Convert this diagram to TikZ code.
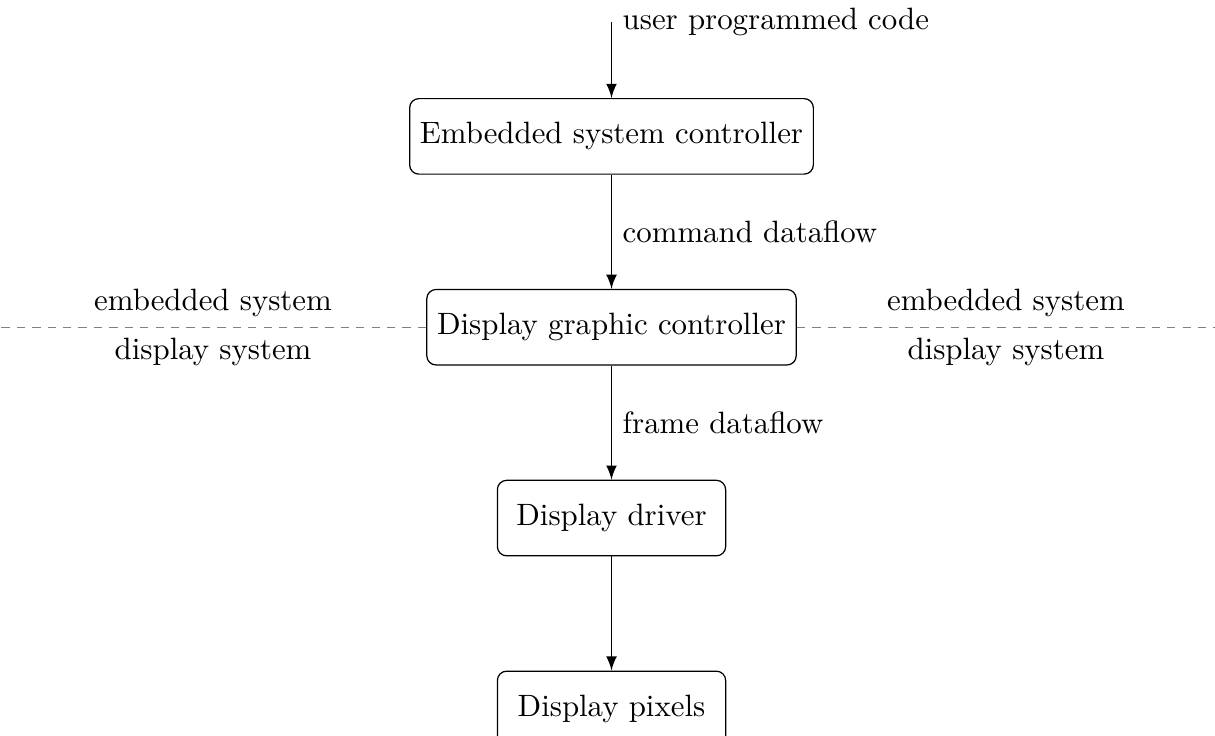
\documentclass[tikz,border=0pt]{standalone}
\usepackage{tikz}
\usetikzlibrary{positioning}

\begin{document}
\begin{tikzpicture}
	\useasboundingbox (-198.2pt,-194.3pt) rectangle (195.6pt,44.2pt);
	\tikzstyle{block}=[rectangle, rounded corners=3pt, draw=black, minimum height=8.6mm, node distance=1.3cm]
	\tikzstyle{connect}=[-latex, semithick]
	\tikzstyle{divider}=[draw=gray, dash pattern=on 2.7pt off 2.3pt]
	\node[block] (esc) {Embedded system controller};
	\node[block] (dgc) [below=of esc] {Display graphic controller};
	\node[block, minimum width=2.6cm] (drv) [below=of dgc] {Display driver};
	\node[block, minimum width=2.6cm] (pix) [below=of drv] {Display pixels};
	\node[coordinate] (code) [above=8.7mm of esc] {};
	\coordinate (lend) at (-198.2pt,0 |- dgc);
	\coordinate (rend) at (195.6pt,0 |- dgc);
	\path (code) edge [connect] node[pos=0, right] {user programmed code} (esc)
	(esc) edge [connect] node[right] {command dataflow} (dgc)
	(dgc) edge [connect] node[right] {frame dataflow} (drv)
	(drv) edge [connect] (pix);
	\path (dgc.west) edge [divider] node[above] {embedded system} node[below] {display system} (lend)
	(dgc.east) edge [divider] node[above] {embedded system} node[below] {display system} (rend);
\end{tikzpicture}
\end{document}
